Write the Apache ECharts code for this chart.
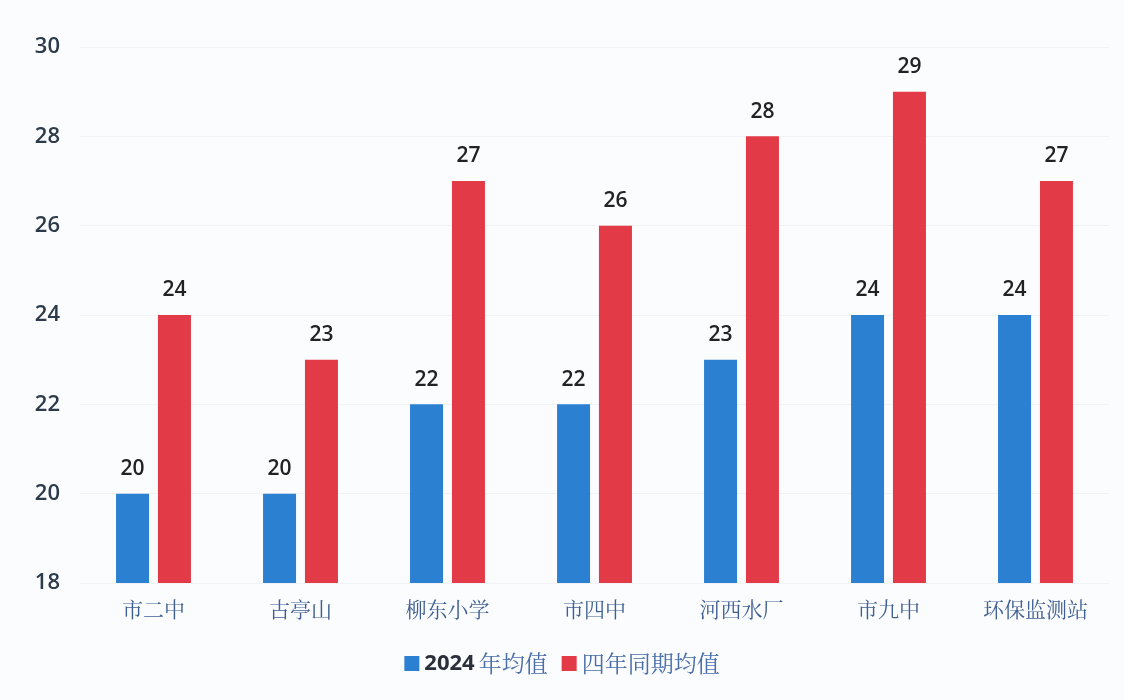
<!DOCTYPE html>
<html><head><meta charset="utf-8">
<script src="https://cdn.jsdelivr.net/npm/echarts@6/dist/echarts.min.js"></script>
<style>html,body{margin:0;padding:0;background:#fbfcfe;}#c{width:1124px;height:700px;}</style>
</head><body><div id="c"></div>
<script>
const categories = ['市二中','古亭山','柳东小学','市四中','河西水厂','市九中','环保监测站'];
const series2024 = [20,20,22,22,23,24,24];
const seriesFourYear = [24,23,27,26,28,29,27];
const seriesNames = ['2024年均值','四年同期均值'];
const yTicks = {min:18, max:30, interval:2};

const chart = echarts.init(document.getElementById('c'));
const labelStyle = {show:true, position:'top', distance:14, color:'#222', fontSize:21, fontFamily:'Open Sans, sans-serif', fontWeight:600};
chart.setOption({
  backgroundColor:'#fbfcfe',
  animation:false,
  grid:{left:80, right:15, top:47, bottom:117},
  legend:{
    bottom:20, left:'center', itemWidth:15, itemHeight:15, itemGap:14,
    icon:'rect',
    formatter:function(n){
      const m = n.match(/^(\d+)(.*)$/);
      return m ? '{d|'+m[1]+'}{t|'+m[2]+'}' : '{t|'+n+'}';
    },
    textStyle:{
      rich:{
        d:{fontSize:22, color:'#2a2f3a', fontWeight:700, fontFamily:'Open Sans, sans-serif', padding:[0,4,0,0]},
        t:{fontSize:23, color:'#4a6ea8', fontFamily:'Noto Serif CJK SC, Noto Sans CJK SC, serif'}
      }
    },
    data:seriesNames
  },
  xAxis:{
    type:'category', data:categories,
    axisLine:{show:false}, axisTick:{show:false},
    axisLabel:{fontSize:21, color:'#3f5f92', margin:16, fontFamily:'Noto Serif CJK SC, Noto Sans CJK SC, serif'}
  },
  yAxis:{
    type:'value', min:yTicks.min, max:yTicks.max, interval:yTicks.interval,
    axisLine:{show:false}, axisTick:{show:false},
    splitLine:{lineStyle:{color:'#f0f2f6'}},
    axisLabel:{fontSize:22, color:'#2d3a4a', margin:20, fontFamily:'Open Sans, sans-serif', fontWeight:600}
  },
  series:[
    {name:seriesNames[0], type:'bar', data:series2024, barWidth:33, barGap:'27%',
     itemStyle:{color:'#2b80d2'}, label:labelStyle},
    {name:seriesNames[1], type:'bar', data:seriesFourYear, barWidth:33,
     itemStyle:{color:'#e23a46'}, label:labelStyle}
  ]
});
</script></body></html>
